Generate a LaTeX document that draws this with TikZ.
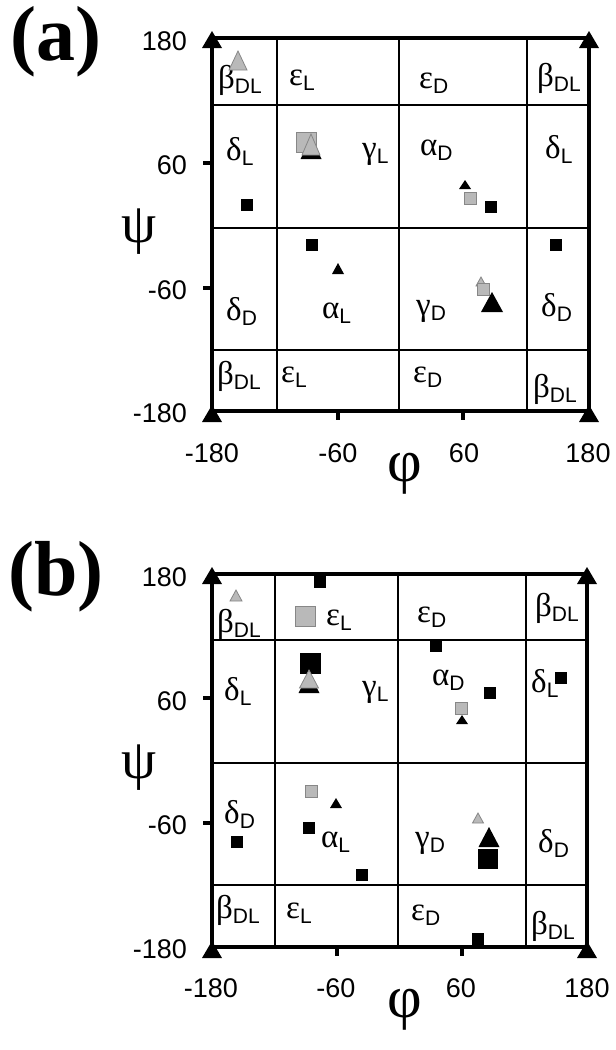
\documentclass[tikz,border=0pt]{standalone}
\usepackage{fontspec}
\setmainfont{Liberation Serif}
\setsansfont{Liberation Sans}
\definecolor{mkgray}{RGB}{185,185,185}
\definecolor{mkgrayd}{RGB}{135,135,135}
\newcommand\reglab[2]{{\fontsize{33}{33}\selectfont #1}\raisebox{-5pt}{\sffamily\fontsize{21}{21}\selectfont #2}}
\newcommand\mysq[4]{\filldraw[#1] ({#2-#4/2},{#3-#4/2}) rectangle ({#2+#4/2},{#3+#4/2});}
\newcommand\mytri[5]{\filldraw[#1] ({#2-#5/2},#4) -- ({#2+#5/2},#4) -- (#2,#3) -- cycle;}
\begin{document}
\begin{tikzpicture}[x=1pt,y=-1pt,
  frameline/.style={line width=3.2pt},
  gridline/.style={line width=2.6pt},
  bmk/.style={fill=black,draw=none},
  gmk/.style={fill=mkgray,draw=mkgrayd,line width=0.8pt},
  ticklab/.style={font=\sffamily\fontsize{27}{27}\selectfont,inner sep=0pt},
  reg/.style={anchor=base west,inner sep=0pt},
  axlab/.style={inner sep=0pt},
  panlab/.style={inner sep=0pt,font=\bfseries\fontsize{78}{78}\selectfont}]
\useasboundingbox (0,0) rectangle (616,1050);
\fill[white] (0,0) rectangle (616,1050);

% ================= panel (a) =================
\node[panlab] (pa) at (56,42) {(a)};
\draw[gridline] (277,38) -- (277,411) (399,38) -- (399,411) (527,38) -- (527,411);
\draw[gridline] (212,105) -- (589,105) (212,228) -- (589,228) (212,350) -- (589,350);
\draw[frameline] (212,38) rectangle (589,411);
\draw[frameline] (203,163) -- (212,163) (203,288) -- (212,288);
\draw[frameline] (338,411) -- (338,420) (463,411) -- (463,420);
\mytri{bmk}{212}{31}{48}{20}
\mytri{bmk}{589}{31}{48}{20}
\mytri{bmk}{212}{405}{422}{20}
\mytri{bmk}{589}{405}{422}{20}
% tick labels
\node[ticklab,anchor=east] (ay180) at (187,41) {180};
\node[ticklab,anchor=east] (ay60) at (187,165) {60};
\node[ticklab,anchor=east] (aym60) at (187,290) {-60};
\node[ticklab,anchor=east] (aym180) at (187,413) {-180};
\node[ticklab] (axm180) at (212,453) {-180};
\node[ticklab] (axm60) at (338,453) {-60};
\node[ticklab] (ax60) at (464,453) {60};
\node[ticklab] (ax180) at (588,453) {180};
\node[axlab,font=\fontsize{56}{56}\selectfont] (apsi) at (139,232) {ψ};
\node[axlab,font=\fontsize{60}{60}\selectfont] (aphi) at (405,474) {φ};
% region labels
\node[reg] (a1) at (218,88) {\reglab{β}{DL}};
\node[reg] (a2) at (289,85) {\reglab{ε}{L}};
\node[reg] (a3) at (419,88) {\reglab{ε}{D}};
\node[reg] (a4) at (537,86) {\reglab{β}{DL}};
\node[reg] (a5) at (226,160) {\reglab{δ}{L}};
\node[reg] (a6) at (362,158) {\reglab{γ}{L}};
\node[reg] (a7) at (420,155) {\reglab{α}{D}};
\node[reg] (a8) at (545,158) {\reglab{δ}{L}};
\node[reg] (a9) at (226,320) {\reglab{δ}{D}};
\node[reg] (a10) at (322,318) {\reglab{α}{L}};
\node[reg] (a11) at (416,315) {\reglab{γ}{D}};
\node[reg] (a12) at (541,316) {\reglab{δ}{D}};
\node[reg] (a13) at (217,384) {\reglab{β}{DL}};
\node[reg] (a14) at (281,382) {\reglab{ε}{L}};
\node[reg] (a15) at (413,382) {\reglab{ε}{D}};
\node[reg] (a16) at (533,397) {\reglab{β}{DL}};
% markers
\mytri{gmk}{238}{51}{70}{18}
\mysq{gmk}{306}{142}{20}
\mytri{bmk}{311}{138}{159}{21}
\mytri{gmk}{311}{134}{155}{18}
\mysq{bmk}{247}{205}{12}
\mytri{bmk}{465}{180}{189}{12}
\mysq{gmk}{470}{198}{12}
\mysq{bmk}{491}{207}{12}
\mysq{bmk}{312}{245}{12}
\mytri{bmk}{338}{263}{274}{12}
\mysq{bmk}{556}{245}{12}
\mytri{gmk}{481}{277}{286}{10}
\mysq{gmk}{483}{289}{12}
\mytri{bmk}{492}{292}{312}{22}

% ================= panel (b) =================
\node[panlab] (pb) at (56,577) {(b)};
\draw[gridline] (275,574) -- (275,947) (398,574) -- (398,947) (526,574) -- (526,947);
\draw[gridline] (212,640) -- (587,640) (212,763) -- (587,763) (212,885) -- (587,885);
\draw[frameline] (212,574) rectangle (587,947);
\draw[frameline] (203,698) -- (212,698) (203,823) -- (212,823);
\draw[frameline] (337,947) -- (337,956) (462,947) -- (462,956);
\mytri{bmk}{212}{567}{584}{20}
\mytri{bmk}{587}{567}{584}{20}
\mytri{bmk}{212}{941}{958}{20}
\mytri{bmk}{587}{941}{958}{20}
\node[ticklab,anchor=east] (by180) at (187,577) {180};
\node[ticklab,anchor=east] (by60) at (187,701) {60};
\node[ticklab,anchor=east] (bym60) at (187,825) {-60};
\node[ticklab,anchor=east] (bym180) at (187,949) {-180};
\node[ticklab] (bxm180) at (211,988) {-180};
\node[ticklab] (bxm60) at (336,988) {-60};
\node[ticklab] (bx60) at (461,988) {60};
\node[ticklab] (bx180) at (587,988) {180};
\node[axlab,font=\fontsize{56}{56}\selectfont] (bpsi) at (139,768) {ψ};
\node[axlab,font=\fontsize{60}{60}\selectfont] (bphi) at (405,1010) {φ};
\node[reg] (b1) at (217,632) {\reglab{β}{DL}};
\node[reg] (b2) at (326,625) {\reglab{ε}{L}};
\node[reg] (b3) at (417,622) {\reglab{ε}{D}};
\node[reg] (b4) at (535,616) {\reglab{β}{DL}};
\node[reg] (b5) at (224,700) {\reglab{δ}{L}};
\node[reg] (b6) at (362,696) {\reglab{γ}{L}};
\node[reg] (b7) at (432,685) {\reglab{α}{D}};
\node[reg] (b8) at (531,692) {\reglab{δ}{L}};
\node[reg] (b9) at (224,823) {\reglab{δ}{D}};
\node[reg] (b10) at (321,847) {\reglab{α}{L}};
\node[reg] (b11) at (415,847) {\reglab{γ}{D}};
\node[reg] (b12) at (538,852) {\reglab{δ}{D}};
\node[reg] (b13) at (216,918) {\reglab{β}{DL}};
\node[reg] (b14) at (286,918) {\reglab{ε}{L}};
\node[reg] (b15) at (411,920) {\reglab{ε}{D}};
\node[reg] (b16) at (531,934) {\reglab{β}{DL}};
\mysq{bmk}{320}{582}{12}
\mytri{gmk}{236}{590}{601}{12}
\mysq{gmk}{305}{616}{20}
\mysq{bmk}{310}{663}{21}
\mytri{bmk}{309}{673}{693}{21}
\mytri{gmk}{309}{670}{688}{19}
\mysq{bmk}{436}{646}{12}
\mysq{bmk}{490}{693}{12}
\mysq{gmk}{461}{708}{12}
\mytri{bmk}{462}{715}{724}{12}
\mysq{bmk}{561}{678}{12}
\mysq{gmk}{311}{791}{12}
\mytri{bmk}{336}{798}{808}{12}
\mysq{bmk}{237}{842}{12}
\mysq{bmk}{309}{828}{12}
\mysq{bmk}{362}{875}{12}
\mytri{gmk}{478}{813}{823}{11}
\mytri{bmk}{489}{827}{847}{21}
\mysq{bmk}{488}{859}{20}
\mysq{bmk}{478}{939}{12}
\end{tikzpicture}
\end{document}
